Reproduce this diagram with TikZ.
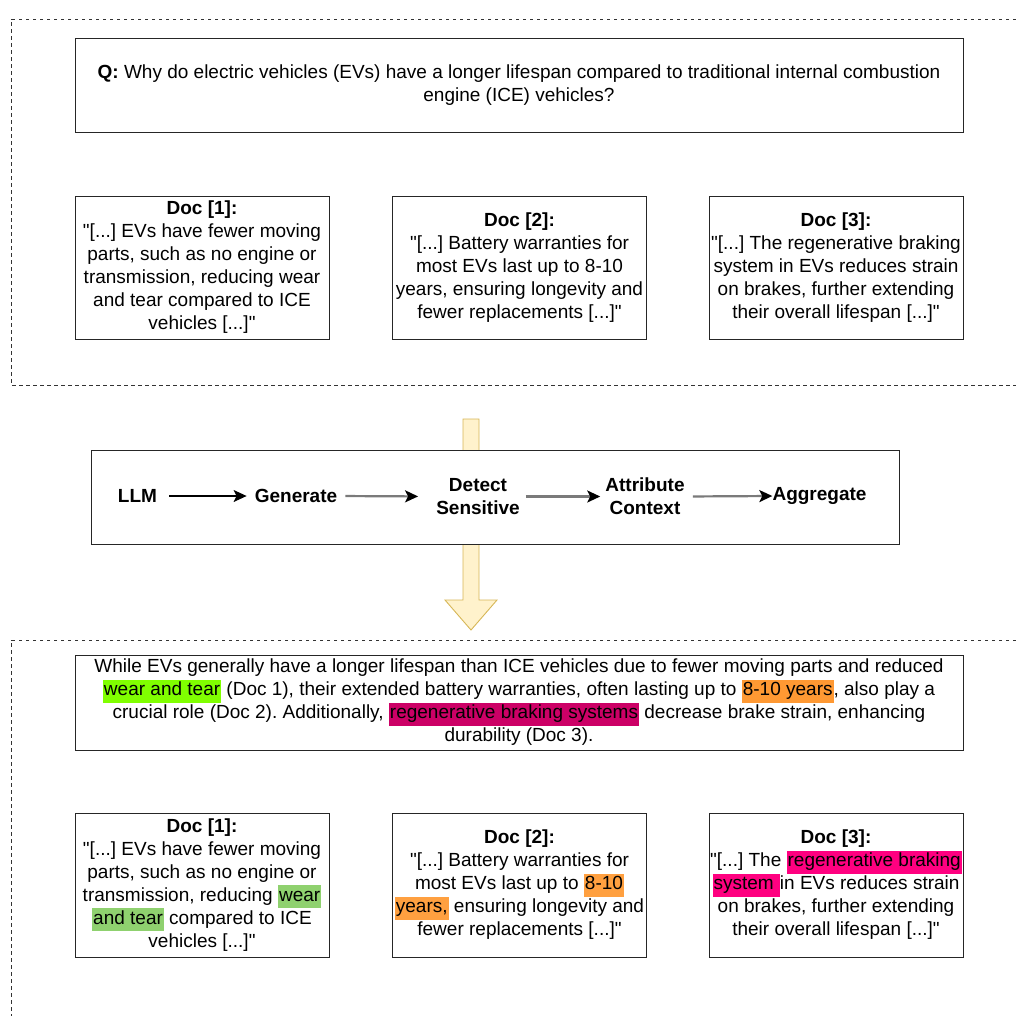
\documentclass[tikz,border=0pt]{standalone}
\usepackage{fontspec}
\setmainfont{Liberation Sans}[Ligatures=TeXOff]
\usetikzlibrary{arrows.meta}

\definecolor{hlgreen}{HTML}{80FF00}
\definecolor{hlorange}{HTML}{FF9933}
\definecolor{hlmagenta}{HTML}{CC0066}
\definecolor{hlsoftgreen}{HTML}{8FD16F}
\definecolor{hlsoftorange}{HTML}{FFA040}
\definecolor{hlpink}{HTML}{FF0080}
\definecolor{flowfill}{HTML}{FFF2CC}
\definecolor{flowline}{HTML}{D6B656}
\definecolor{linkgray}{HTML}{7A7A7A}

\frenchspacing
\newcommand{\hlt}[2]{{\setlength{\fboxsep}{0pt}\colorbox{#1}{\strut\hspace{1pt}#2\hspace{1pt}}}}

\tikzset{
  txt/.style={font=\fontsize{19}{23}\selectfont},
  panel/.style={draw=black!85, line width=0.9pt, fill=white},
  docbox/.style={panel, txt, minimum width=254pt, minimum height=143pt, align=center, inner sep=0pt},
  wide/.style={panel, txt, minimum width=888pt, align=center, inner sep=0pt},
  stage/.style={font=\fontsize{19}{23}\selectfont\bfseries, align=center, inner sep=0pt},
  frame/.style={dashed, dash pattern=on 3.5pt off 3.5pt, line width=0.8pt, draw=black!80},
  firstlink/.style={draw=black, line width=1.3pt, -{Stealth[length=13pt, width=12pt, inset=3pt]}},
  graylink/.style={draw=linkgray, line width=2.2pt, -{Stealth[length=13pt, width=12pt, inset=3pt, color=black]}},
}

\begin{document}
\begin{tikzpicture}[x=1pt, y=-1pt]
\useasboundingbox (0,0) rectangle (1016,1015);
\clip (0,0) rectangle (1016,1015);

% dashed group frames
\draw[frame] (1030,19) -- (11,19) -- (11,385) -- (1030,385);
\draw[frame] (1030,640) -- (11,640) -- (11,1030);

% question and retrieved documents
\node[wide, minimum height=94pt] (q) at (519,85)
  {\textbf{Q:} Why do electric vehicles (EVs) have a longer lifespan compared to traditional internal combustion\\engine (ICE) vehicles?};

\node[docbox] (d1) at (202,267.5)
  {\textbf{Doc [1]:}\\"[...] EVs have fewer moving\\parts, such as no engine or\\transmission, reducing wear\\and tear compared to ICE\\vehicles [...]"};
\node[docbox] (d2) at (519.5,267.5)
  {\textbf{Doc [2]:}\\"[...] Battery warranties for\\most EVs last up to 8-10\\years, ensuring longevity and\\fewer replacements [...]"};
\node[docbox] (d3) at (836,267.5)
  {\textbf{Doc [3]:}\\"[...] The regenerative braking\\system in EVs reduces strain\\on brakes, further extending\\their overall lifespan [...]"};

% flow arrow behind the pipeline
\draw[fill=flowfill, draw=flowline, line width=0.9pt]
  (463,419) -- (479,419) -- (479,600) -- (497,600) -- (471,630)
  -- (445,600) -- (463,600) -- cycle;

% pipeline
\node[panel, minimum width=808pt, minimum height=94pt] (pipe) at (495,497) {};
\node[stage] (llm) at (137.5,496) {LLM};
\node[stage] (gen) at (296,496) {Generate};
\node[stage] (det) at (478,496.5) {Detect\\Sensitive};
\node[stage] (att) at (645,496.5) {Attribute\\Context};
\node[stage] (agg) at (819.5,496) {Aggregate};

\draw[firstlink, shorten <=12pt, shorten >=8pt] (llm.east) -- (gen.west);
\draw[graylink, shorten <=8pt, shorten >=18pt] (gen.east) -- (det.west);
\draw[graylink, shorten <=6pt, shorten >=5pt] (det.east) -- (att.west);
\draw[graylink, shorten <=8pt, shorten >=0pt] (att.east) -- (agg.west);

% attributed answer and highlighted documents
\node[wide, minimum height=95pt] (ans) at (519,702.5)
  {While EVs generally have a longer lifespan than ICE vehicles due to fewer moving parts and reduced\\
   \hlt{hlgreen}{wear and tear} (Doc 1), their extended battery warranties, often lasting up to \hlt{hlorange}{8-10 years}, also play a\\
   crucial role (Doc 2). Additionally, \hlt{hlmagenta}{regenerative braking systems} decrease brake strain, enhancing\\
   durability (Doc 3).};

\node[docbox, minimum height=144pt] (e1) at (202,885)
  {\textbf{Doc [1]:}\\"[...] EVs have fewer moving\\parts, such as no engine or\\transmission, reducing \hlt{hlsoftgreen}{wear}\\\hlt{hlsoftgreen}{and tear} compared to ICE\\vehicles [...]"};
\node[docbox, minimum height=144pt] (e2) at (519.5,885)
  {\textbf{Doc [2]:}\\"[...] Battery warranties for\\most EVs last up to \hlt{hlsoftorange}{8-10}\\\hlt{hlsoftorange}{years,} ensuring longevity and\\fewer replacements [...]"};
\node[docbox, minimum height=144pt] (e3) at (836,885)
  {\textbf{Doc [3]:}\\"[...] The \hlt{hlpink}{regenerative braking}\\\hlt{hlpink}{system }in EVs reduces strain\\on brakes, further extending\\their overall lifespan [...]"};
\end{tikzpicture}
\end{document}
